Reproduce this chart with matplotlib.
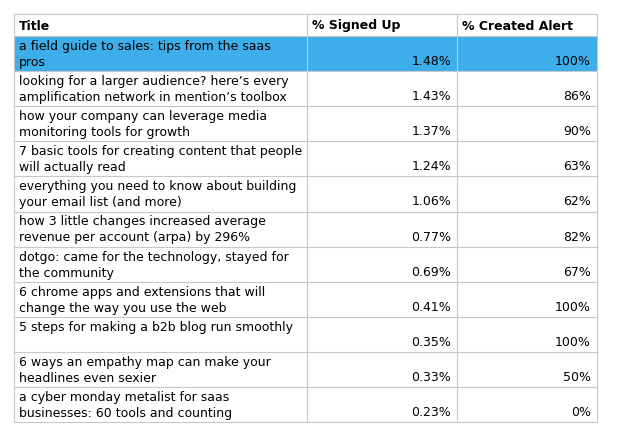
import matplotlib.pyplot as plt
from matplotlib.patches import Rectangle

headers = ["Title", "% Signed Up", "% Created Alert"]
titles = [
    "a field guide to sales: tips from the saas\npros",
    "looking for a larger audience? here’s every\namplification network in mention’s toolbox",
    "how your company can leverage media\nmonitoring tools for growth",
    "7 basic tools for creating content that people\nwill actually read",
    "everything you need to know about building\nyour email list (and more)",
    "how 3 little changes increased average\nrevenue per account (arpa) by 296%",
    "dotgo: came for the technology, stayed for\nthe community",
    "6 chrome apps and extensions that will\nchange the way you use the web",
    "5 steps for making a b2b blog run smoothly",
    "6 ways an empathy map can make your\nheadlines even sexier",
    "a cyber monday metalist for saas\nbusinesses: 60 tools and counting",
]
signed_up = ["1.48%", "1.43%", "1.37%", "1.24%", "1.06%", "0.77%", "0.69%", "0.41%", "0.35%", "0.33%", "0.23%"]
created_alert = ["100%", "86%", "90%", "63%", "62%", "82%", "67%", "100%", "100%", "50%", "0%"]
highlight = 0

fig = plt.figure(figsize=(6.19, 4.39), dpi=100)
ax = fig.add_axes([0, 0, 1, 1])
ax.set_xlim(0, 619)
ax.set_ylim(439, 0)
ax.axis("off")

col_x = [14, 307, 457, 597]
top, head_h, row_h = 15, 22, 35.1
line_c = "#c8c8c8"
fs = 9.0

# header
for i, h in enumerate(headers):
    ax.text(col_x[i] + 5, top + head_h / 2, h, fontsize=fs, fontweight="bold",
            va="center", ha="left", family="DejaVu Sans")

for r, (t, s, c) in enumerate(zip(titles, signed_up, created_alert)):
    y0 = top + head_h + r * row_h
    if r == highlight:
        ax.add_patch(Rectangle((col_x[0], y0), col_x[-1] - col_x[0], row_h,
                               facecolor="#3daee9", edgecolor="none"))
    ax.text(col_x[0] + 5, y0 + 3, t, fontsize=fs, va="top", ha="left",
            linespacing=1.3)
    ax.text(col_x[2] - 6, y0 + row_h - 4, s, fontsize=fs, va="bottom", ha="right")
    ax.text(col_x[3] - 6, y0 + row_h - 4, c, fontsize=fs, va="bottom", ha="right")

bottom = top + head_h + len(titles) * row_h
for k in range(len(titles) + 2):
    y = top if k == 0 else top + head_h + (k - 1) * row_h
    ax.plot([col_x[0], col_x[-1]], [y, y], color=line_c, lw=0.8)
for x in col_x:
    ax.plot([x, x], [top, bottom], color=line_c, lw=0.8)

fig.savefig("out.png", dpi=100)
